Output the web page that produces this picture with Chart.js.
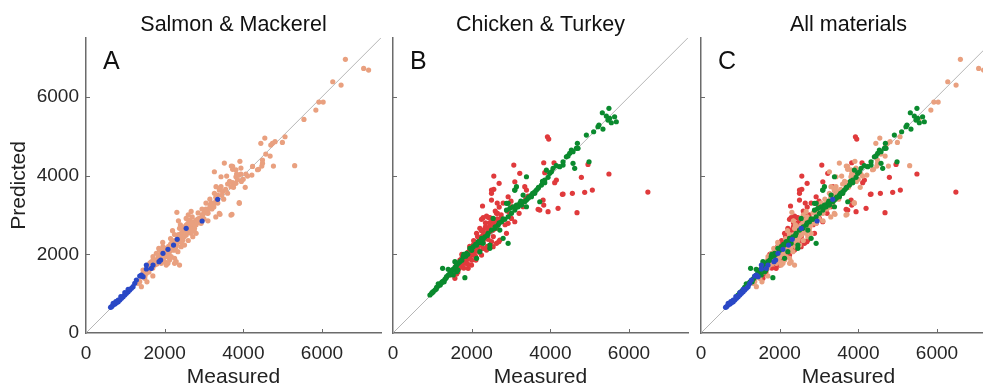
<!DOCTYPE html>
<html><head><meta charset="utf-8">
<script src="https://cdn.jsdelivr.net/npm/chart.js@4.4.0/dist/chart.umd.min.js"></script>
<style>
html,body{margin:0;padding:0;width:983px;height:388px;overflow:hidden;background:#fff;}
canvas{position:absolute;top:0;}
</style></head><body>
<canvas id="cA" width="400" height="388" style="left:0px"></canvas>
<canvas id="cB" width="400" height="388" style="left:307px"></canvas>
<canvas id="cC" width="400" height="388" style="left:615px"></canvas>
<script>
// ---- data (Measured, Predicted) ----
const panelTitles = ['Salmon & Mackerel', 'Chicken & Turkey', 'All materials'];
const panelLetters = ['A', 'B', 'C'];
const tickValues = [0, 2000, 4000, 6000];
const axisMax = 7500;
const diagonal = [0, 7500];

const salmon = [
[6595,6952],[7059,6723],[7185,6680],[6274,6383],[6485,6299],[5920,5867],[6030,5867],[5844,5664],
[5541,5427],[5060,4986],[4993,4843],[4546,4953],[4445,4818],[4698,4775],[4740,4818],[4807,4860],
[4571,4547],[4681,4496],[4487,4394],[4487,4310],[4470,4242],[4386,4158],[4765,4242],[5305,4250],
[3913,4361],[3517,4318],[3264,4097],[3433,3970],[3576,3988],[3694,4242],[3728,4158],[3829,4039],
[3939,4039],[3812,3970],[4107,3988],[4217,4013],[3997,3904],[3601,3785],[3728,3818],[3812,3802],
[3433,3718],[3390,3675],[4048,3700],[3728,4233],[3812,4148],[3939,4191],[3896,4013],[4065,4039],
[4361,4148],[4234,4233],[3770,3802],[3686,3718],[3306,3718],[3390,3632],[3264,3548],[3474,3591],
[3348,3505],[3896,3311],[3711,3014],[3407,3014],[3247,3251],[3180,3294],[3137,3167],[3053,3124],
[3095,3040],[2968,2997],[2884,2912],[2800,2870],[2842,2827],[2927,2786],[2673,3090],[2310,3065],
[2631,2870],[2589,2786],[2547,2743],[2673,2700],[2758,2659],[2631,2573],[2800,2532],[2715,2446],
[2547,2489],[2462,2616],[2378,2659],[2420,2532],[2336,2446],[2293,2362],[2378,2319],[2462,2362],
[2505,2235],[2420,2192],[2293,2192],[2167,2277],[2209,2108],[2125,2065],[2040,2024],[2083,1939],
[2167,1939],[2252,1897],[2293,1812],[2378,1727],[2252,1770],[2125,1854],[1999,1939],[1957,1854],
[1915,1770],[2040,1727],[1872,2108],[1788,2024],[1830,1897],[1704,1854],[1746,1727],[1619,1770],
[1661,1643],[1577,1600],[1535,1516],[1451,1516],[1408,1430],[1493,1389],[1366,1303],[1324,1262],
[1408,1176],[1704,1939],[1957,2192],[1915,2065],[1872,1981],[2547,2912],[2715,2827],[2505,2700],
[2589,2616],[2758,2743],[2673,2532],[2252,2108],[2336,2065],[1999,1812],[2083,1770],[3390,3040],
[3686,2997],[3896,3294],[2100,2200],[2200,2350],[2350,2500],[2450,2450],[2550,2600],[2650,2750],
[2700,2950],[2850,3050],[2950,3150],[3050,3300],[3150,3400],[3300,3450],[2400,2750],[2250,2500],
[2150,2400],[1850,2150],[1950,2300],[2600,3000],[3000,3050],[3200,3150],
[1450,1600],[1500,1450],[1550,1700],[1600,1550],[1650,1800],[1700,1650],[1750,1850],[1800,1750],
[1850,1950],[1900,1900],[1950,2050],[2000,2150],[2050,2100],[2100,2000],[2150,2250],[2200,2150],
[2250,2300],[2300,2250],[2350,2400],[2400,2350],[2450,2550],[2500,2450],[2550,2700],[2600,2550],
[2650,2650],[2700,2800],[2750,2600],[2800,2750],[2850,2900],[2900,2800],[2950,3000],[3000,2900],
[3050,3150],[3100,3050],[3150,3250],[3200,3300],[3250,3200],[3300,3350],[3350,3300],[3450,3500],
[3500,3400],[3550,3650],[3600,3550],[3650,3850],[3750,3700],[3850,3900],[3950,3850],[2350,2850],
[2200,2600],[2450,2250],[2600,2350],[3100,2850],[3300,2950],[1550,1300],[1700,1450]
];
const mackerel = [
[3348,3396],[2952,2845],[2547,2659],[2319,2379],[2226,2235],[2083,2125],[1957,2024],[1898,1854],
[1856,1812],[1704,1727],[1661,1643],[1535,1727],[1535,1626],[1408,1473],[1366,1448],[1451,1430],
[1281,1346],[1240,1262],[1197,1176],[1155,1135],[1113,1092],[1071,1049],[1029,1008],[987,965],
[944,922],[903,881],[860,838],[818,795],[776,770],[734,737],[691,711],[650,668],[625,653],
[1071,1110],[987,1024],[886,922],[818,838],[691,754],[759,795]
];
const chicken = [
[5490,5707],[5322,5596],[5424,5512],[5508,5453],[5550,5342],[5677,5367],[5634,5494],[5465,5410],
[5236,5283],[5338,5182],[5211,5240],[5101,5113],[4916,5029],[4688,4818],[4662,4691],[4577,4605],
[4492,4564],[4408,4478],[4535,4648],[4704,4691],[4984,4351],[4577,4310],[4619,4183],[4323,4351],
[4323,4267],[4238,4225],[4069,4183],[3984,4056],[3942,3954],[3900,4140],[4027,4097],[3858,3886],
[3774,3759],[3689,3675],[3647,3632],[3604,3548],[3520,3462],[3435,3421],[3393,3378],[3308,3335],
[3223,3294],[3139,3251],[3054,3208],[2970,3167],[2885,3124],[3393,3970],[3139,3718],[3097,3632],
[2927,3294],[3731,3335],[3393,3208],
[939,965],[982,1008],[1023,1049],[1066,1092],[1109,1161],[1150,1194],[1193,1237],[1236,1278],
[1279,1321],[1320,1364],[1363,1430],[1404,1473],[1447,1516],[1490,1575],[1531,1618],[1574,1669],
[1617,1727],[1658,1770],[1700,1811],[1261,1643],[1404,1618],[1574,1811],[1827,1405],[1617,1557],
[1531,1473],[1785,1939],[1870,2024],[1954,2151],[2039,2192],[2124,2235],[2166,2319],[2251,2405],
[2335,2446],[2419,2532],[2504,2616],[2589,2659],[2673,2743],[2758,2827],[2843,2888],[2927,2954],
[3012,3040],[3096,3124],[3181,3208],[3266,3251],[3350,3335],[3520,3505],[3604,3589],[3858,3818],
[2885,3294],[2800,2405],[2927,2278],[2462,2151],[2208,2065],[2124,1897],[2462,2235],[3096,3632],
[3308,3505],[2546,2912],[2716,2616],[2292,2278],
[1000,1030],[1100,1120],[1200,1220],[1150,1250],[1300,1300],[1350,1400],[1250,1300],[1450,1480],
[1500,1600],[1600,1650],[1750,1850],[1850,1950],[2000,2100],[2100,2250],[2200,2300],[2300,2400],
[2400,2480],[2600,2700],[2700,2800],[2800,2900],[3150,3200],[3250,3350],[3450,3450],[3550,3550],
[3700,3700],[3800,3850],[4150,4250],[4450,4500],[1900,2000],[1800,2000],[1650,1600]
];
const turkey = [
[3926,4986],[3959,4928],[3071,4267],[3832,4326],[4094,4326],[3223,4056],[2563,3988],[3858,4073],
[2698,3802],[2563,3650],[3097,3843],[3350,3718],[4789,3954],[4154,3886],[4111,3818],[4958,4284],
[5490,4039],[6480,3581],[5068,3632],[4873,3573],[4560,3548],[4306,3523],[2504,3548],[2504,3378],
[2927,3462],[3435,3480],[3376,3421],[3816,3378],[3832,3251],[3689,3142],[2276,3226],[4196,3167],
[3308,3208],[3012,3208],[3942,3082],[4678,3057],[2378,2972],[2292,2930],[2462,2930],[2631,3040],
[2970,3040],[3206,3040],[3393,3632],[2504,3632],[2656,3040],[2419,2938],[2250,2888],[2504,2802],
[2589,2743],[2631,2659],[2546,2616],[2462,2573],[2377,2532],[2335,2446],[2419,2380],[2504,2319],
[2292,2319],[2208,2235],[2166,2151],[2081,2065],[2039,1981],[1954,1922],[1870,1854],[1827,1770],
[1743,1702],[1685,1643],[1617,1499],[1574,1389],[1447,1473],[1911,1643],[1997,1727],[2107,1854],
[2251,1981],[2377,2108],[2546,2192],[2631,2278],[2716,2362],[2885,2532],
[3096,2827],[3012,2912],[2927,2786],[2208,2659],[2292,2616],
[2124,2532],[2690,2319],[3731,3124],[4323,3531],
[2150,2300],[2250,2450],[2350,2700],[2450,2800],[2550,2850],[2650,2900],[2750,3000],[1750,1900],
[1850,2000],[1950,2100],[2050,2250],[1650,1750],[2850,2750],
[1600,1700],[1700,1850],[1750,2000],[1800,1800],[1900,2050],[1950,2200],[2000,2000],[2050,2350],
[2100,2150],[2150,2450],[2200,2400],[2250,2600],[2300,2500],[2350,2800],[2400,2650],[2450,2700],
[2500,2900],[2550,2750],[2600,3100],[2650,2800],[2700,3200],[2750,2900],[2800,3300],[2900,3100],
[1900,1750],[2000,1850],[2100,1950],[2400,2200],[2550,2450],[1650,1550],[1800,1650],[2200,2050],
[2300,2150],[3000,3350],[2650,3300]
];

// ---- styling ----
const FONT = '"Liberation Sans", Arial, Helvetica, sans-serif';
Chart.defaults.font.family = FONT;
const AXIS = '#6b6b6b';
const COL = { salmon:'#E9A07F', mackerel:'#2A48C6', chicken:'#0A8A2E', turkey:'#E03A3C' };

function pts(arr){ return arr.map(p => ({x:p[0], y:p[1]})); }
function scatter(arr, color){
  return { type:'scatter', data:pts(arr), backgroundColor:color, borderWidth:0,
           pointRadius:2.6, pointHoverRadius:2.6, pointBorderWidth:0 };
}
function diagSet(){
  return { type:'scatter', data:diagonal.map(v => ({x:v, y:v})), showLine:true,
           borderColor:'#a3a3a3', borderWidth:0.8, pointRadius:0, pointHoverRadius:0, fill:false };
}

const decor = {
  id:'decor',
  afterDraw(chart, args, opts){
    const ctx = chart.ctx, ca = chart.chartArea;
    const xs = chart.scales.x, ys = chart.scales.y;
    ctx.save();
    ctx.strokeStyle = AXIS; ctx.lineWidth = 1;
    xs.ticks.forEach(t => {
      const px = Math.round(xs.getPixelForValue(t.value)) + 0.5;
      if (t.value === 0) return;
      ctx.beginPath(); ctx.moveTo(px, ca.bottom); ctx.lineTo(px, ca.bottom - 4); ctx.stroke();
    });
    ys.ticks.forEach(t => {
      const py = Math.round(ys.getPixelForValue(t.value)) + 0.5;
      if (t.value === 0) return;
      ctx.beginPath(); ctx.moveTo(ca.left, py); ctx.lineTo(ca.left + 4, py); ctx.stroke();
    });
    ctx.fillStyle = '#111';
    ctx.font = '25px ' + FONT;
    ctx.textBaseline = 'alphabetic';
    ctx.textAlign = 'left';
    ctx.fillText(opts.letter, ca.left + 17, ca.top + 31);
    ctx.restore();
  }
};

function makePanel(id, idx, datasets, first){
  new Chart(document.getElementById(id), {
    type:'scatter',
    data:{ datasets },
    plugins:[decor],
    options:{
      responsive:false, animation:false, devicePixelRatio:1,
      layout:{ padding:{ left:0, right:19, top:0, bottom:0 } },
      plugins:{
        legend:{ display:false },
        tooltip:{ enabled:false },
        title:{ display:true, text:panelTitles[idx], fullSize:false, color:'#111',
                font:{ size:21.5, weight:'normal', lineHeight:1.2 }, padding:{ top:12, bottom:0 } },
        decor:{ letter:panelLetters[idx] }
      },
      scales:{
        x:{ type:'linear', min:0, max:axisMax,
            afterBuildTicks:s => { s.ticks = tickValues.map(v => ({value:v})); },
            afterFit:s => { s.height = 55; },
            grid:{ display:true, drawOnChartArea:false, drawTicks:false },
            border:{ display:true, color:AXIS, width:1.5 },
            ticks:{ color:'#262626', padding:11, maxRotation:0, autoSkip:false,
                    callback:v => String(v), font:{ size:19, lineHeight:1 } },
            title:{ display:true, text:'Measured', color:'#222',
                    font:{ size:21, lineHeight:1 }, padding:{ top:0, bottom:0 } } },
        y:{ type:'linear', min:0, max:axisMax,
            afterBuildTicks:s => { s.ticks = tickValues.map(v => ({value:v})); },
            afterFit:s => { s.width = 86; },
            grid:{ display:true, drawOnChartArea:false, drawTicks:false },
            border:{ display:true, color:AXIS, width:1.5 },
            ticks:{ display:first, color:'#262626', padding:7, autoSkip:false,
                    callback:v => String(v), font:{ size:19, lineHeight:1 } },
            title:{ display:first, text:'Predicted', color:'#222',
                    font:{ size:21, lineHeight:1 }, padding:{ top:9, bottom:0 } } }
      }
    }
  });
}

makePanel('cA', 0, [ scatter(mackerel, COL.mackerel), scatter(salmon, COL.salmon), diagSet() ], true);
makePanel('cB', 1, [ scatter(chicken, COL.chicken), scatter(turkey, COL.turkey), diagSet() ], false);
makePanel('cC', 2, [ scatter(mackerel, COL.mackerel), scatter(chicken, COL.chicken),
                     scatter(salmon, COL.salmon), scatter(turkey, COL.turkey), diagSet() ], false);
</script>
</body></html>
